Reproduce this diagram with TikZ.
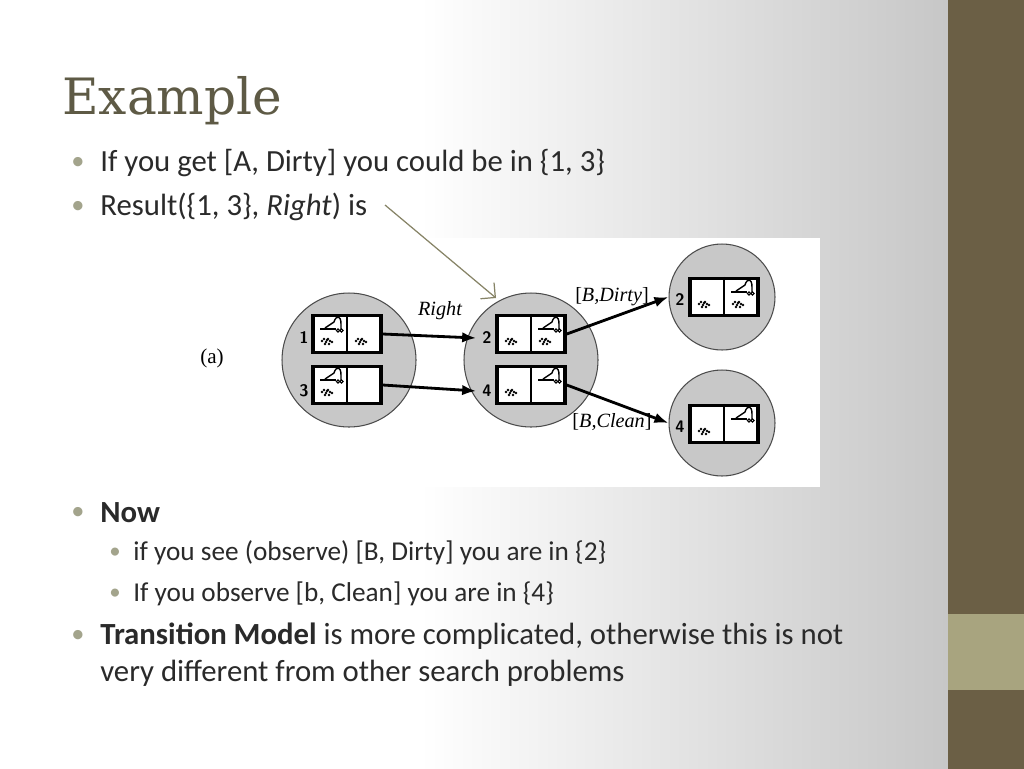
\documentclass[tikz,border=0pt]{standalone}
\usepackage{fontspec}
\setmainfont{Carlito}
\newfontfamily\titlefont{DejaVu Serif}
\usetikzlibrary{arrows.meta,calc}
\definecolor{olive}{HTML}{6B5F45}
\definecolor{lolive}{HTML}{A8A47F}
\definecolor{titlec}{HTML}{5E5A45}
\definecolor{bulc}{HTML}{A3A48C}
\definecolor{txt}{HTML}{2A2A2A}
\definecolor{circ}{HTML}{C8C8C8}
\tikzset{
 st/.style={circle,draw=black!70,line width=0.6pt,fill=circ,inner sep=0pt},
 cellbox/.style={draw=black,line width=2pt,fill=white,minimum width=1.36cm,minimum height=0.74cm,inner sep=0pt},
 num/.style={font=\sffamily\bfseries\fontsize{9.5}{9.5}\selectfont},
 lab/.style={font=\fontspec{Liberation Serif}\itshape\fontsize{11.5}{11.5}\selectfont},
 arr/.style={line width=1.6pt,-{Latex[length=8pt,width=6pt]}},
 bul/.style={anchor=west,font=\fontsize{17.5}{20}\selectfont,text=txt,inner sep=0pt},
 sbul/.style={anchor=west,font=\fontsize{15.5}{18}\selectfont,text=txt,inner sep=0pt},
 dot/.style={anchor=center,text=bulc,inner sep=0pt},
 vac/.pic={\draw[line width=1.2pt] (-10,0)--(6,0); \draw[line width=0.8pt] (-5,-1)--(4,-7) (4,-7) .. controls (6,-14) and (11,-14) .. (11,-5) -- (11,0);
   \draw[line width=0.6pt] (8,1.5) circle (1.6) (11.5,1.5) circle (1.6);},
 dirt/.pic={\foreach \p in {(-5,0),(-3,-2),(-1,1),(1,-2),(3,0),(5,1),(-2,3),(2,3),(0,-1)} \fill \p circle (1.4);}
}
\newcommand{\halfc}[3]{%
 \ifnum#2=1 \pic at ($(#1)+(0,-5)$) {vac};\fi
 \ifnum#3=1 \pic at ($(#1)+(-3,7)$) {dirt};\fi}
\begin{document}
\begin{tikzpicture}[x={(0.02cm,0)},y={(0,-0.02cm)}]
\useasboundingbox (0,0) rectangle (1024,768);
\fill[white] (-2,-2) rectangle (950,770);
\shade[left color=white,right color=black!22] (420,-2) rectangle (948,770);
\fill[olive] (948,-2) rectangle (1026,770);
\fill[lolive] (948,614) rectangle (1026,690);
\node[anchor=west,inner sep=0pt,text=titlec,font=\titlefont\fontsize{28.5}{28.5}\selectfont] (title) at (62,101) {Example};
\node[dot,font=\fontsize{15}{15}\selectfont] (d1) at (78,163) {•};
\node[bul] (t1) at (100,163) {If you get [A, Dirty] you could be in \{1, 3\}};
\node[dot,font=\fontsize{15}{15}\selectfont] (d2) at (78,207) {•};
\node[bul] (t2) at (100,207) {Result(\{1, 3\}, \textit{Right}) is};
\node[dot,font=\fontsize{15}{15}\selectfont] (d3) at (78,513) {•};
\node[bul] (t3) at (100,513) {\textbf{Now}};
\node[dot,font=\fontsize{13}{13}\selectfont] (d4) at (115,553) {•};
\node[sbul] (t4) at (133,553) {if you see (observe) [B, Dirty] you are in \{2\}};
\node[dot,font=\fontsize{13}{13}\selectfont] (d5) at (115,594) {•};
\node[sbul] (t5) at (133,594) {If you observe [b, Clean] you are in \{4\}};
\node[dot,font=\fontsize{15}{15}\selectfont] (d6) at (78,636) {•};
\node[bul] (t6) at (100,636) {\textbf{Transition Model} is more complicated, otherwise this is not};
\node[bul] (t7) at (100,673) {very different from other search problems};
% figure
\fill[white] (270,238) rectangle (820,487);
\node[font=\fontspec{Liberation Serif}\fontsize{12}{12}\selectfont] (a) at (212,358) {(a)};
\node[st,minimum size=2.68cm] (C1) at (349,360) {};
\node[st,minimum size=2.68cm] (C2) at (531,360) {};
\node[st,minimum size=2.12cm] (C3) at (722,297) {};
\node[st,minimum size=2.12cm] (C4) at (722,423) {};
\node[cellbox] (b1) at (347,334) {};
\node[cellbox] (b3) at (347,385) {};
\node[cellbox] (b2) at (531,334) {};
\node[cellbox] (b4) at (531,385) {};
\node[cellbox] (b5) at (724,297) {};
\node[cellbox] (b6) at (724,424) {};
\foreach \b in {b1,b2,b3,b4,b5,b6} \draw[line width=0.8pt] (\b.north)--(\b.south);
\foreach \b/\lv/\ld/\rv/\rd in {b1/1/1/0/1, b3/1/1/0/0, b2/0/1/1/1, b4/0/1/1/0, b5/0/1/1/1, b6/0/1/1/0}{
  \coordinate (L) at ($(\b.center)+(-17,0)$);
  \coordinate (R) at ($(\b.center)+(17,0)$);
  \halfc{L}{\lv}{\ld}\halfc{R}{\rv}{\rd}}
\node[num] (n1) at (304,338) {1};
\node[num] (n3) at (304,391) {3};
\node[num] (n2) at (487,338) {2};
\node[num] (n4) at (487,391) {4};
\node[num] (n5) at (680,300) {2};
\node[num] (n6) at (680,427) {4};
\draw[arr] (b1.east) -- (n2.west);
\draw[arr] (b3.east) -- (n4.west);
\draw[arr] (b2.east) -- (C3.west);
\draw[arr] (b4.east) -- (C4.west);
\node[lab] (lr) at (440,311) {Right};
\node[lab,font=\fontspec{Liberation Serif}\fontsize{11.5}{11.5}\selectfont] (ld) at (612,297) {[\textit{B,Dirty}]};
\node[lab,font=\fontspec{Liberation Serif}\fontsize{11.5}{11.5}\selectfont] (lc) at (612,422) {[\textit{B,Clean}]};
\coordinate (p0) at (385,205);
\coordinate (p1) at (496,298);
\draw[color=lolive!80!black,line width=0.7pt,-{Straight Barb[length=6pt]}] (p0) -- (p1);
\end{tikzpicture}
\end{document}
